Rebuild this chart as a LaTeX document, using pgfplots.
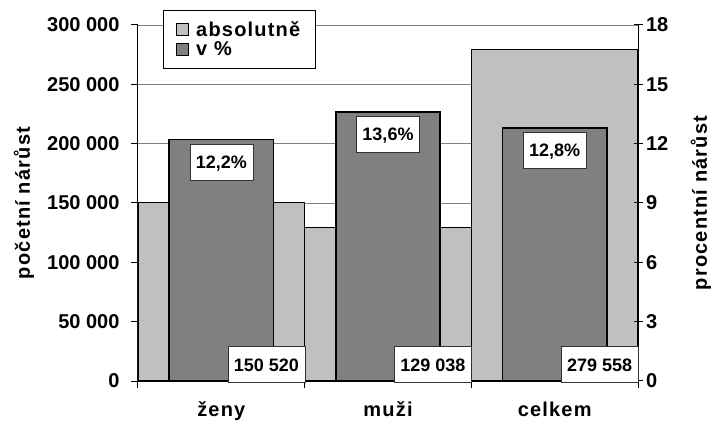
\documentclass[border=0pt]{standalone}
\usepackage{pgfplots}
\pgfplotsset{compat=1.18}
\usepackage{fontspec}
\setmainfont{Liberation Sans}
\newfontfamily\spacedfont{Liberation Sans}[LetterSpace=6]

\definecolor{absgray}{HTML}{C0C0C0}
\definecolor{pctgray}{HTML}{808080}

\newcommand{\chartfont}{\bfseries\fontsize{20}{22}\selectfont}
\newcommand{\boxfont}{\bfseries\fontsize{18}{20}\selectfont}
\newcommand{\spacedchartfont}{\spacedfont\bfseries\fontsize{20}{22}\selectfont}

\tikzset{
  valuebox/.style={
    font=\boxfont, fill=white, draw=black!80, line width=0.6pt,
    inner xsep=6pt, minimum height=36pt, text height=13pt, text depth=0pt,
  },
}
\pgfplotsset{
  common/.style={
    at={(0,0)}, anchor=south west,
    scale only axis, width=500pt, height=356pt,
    xmin=-0.5, xmax=2.5, ymin=0,
    scaled y ticks=false,
    axis line style={black, line width=1pt},
    tick style={black, line width=1pt},
    tick label style={font=\chartfont},
    label style={font=\spacedchartfont},
  },
}

\begin{document}
\begin{tikzpicture}[x=1pt,y=1pt]
\useasboundingbox (-138,-42) rectangle (574,381);

% absolute increase, left axis
\begin{axis}[common,
  ymax=300000,
  axis y line*=left, axis x line*=bottom,
  tick align=outside, major tick length=7pt,
  xtick={-0.5,0.5,1.5,2.5}, xticklabels={},
  extra x ticks={0,1,2},
  extra x tick labels={ženy,muži,celkem},
  extra x tick style={major tick length=0pt, grid=none,
    tick label style={font=\spacedchartfont, yshift=-17pt}},
  ytick={0,50000,100000,150000,200000,250000,300000},
  yticklabels={0,50 000,100 000,150 000,200 000,250 000,300 000},
  yticklabel style={xshift=-8pt},
  ymajorgrids, grid style={pctgray, line width=0.8pt},
  ylabel={početní nárůst},
  ylabel style={at={(axis description cs:-0.228,0.5)}, anchor=center},
]
\addplot[ybar, bar width=1, bar shift=0pt, fill=absgray, draw=black, line width=1.2pt]
  coordinates {(0,150520) (1,129038) (2,279558)};
\end{axis}

% percentage increase, right axis
\begin{axis}[common,
  ymax=18,
  axis y line*=right, axis x line=none,
  tick align=center, major tick length=9pt,
  ytick={0,3,6,9,12,15,18},
  yticklabels={0,3,6,9,12,15,18},
  ylabel={procentní nárůst},
  ylabel style={at={(axis description cs:1.126,0.5)}, anchor=center, rotate=0},
  legend style={at={(rel axis cs:0.05,1.042)}, anchor=north west,
    draw=black, line width=0.8pt, fill=white, font=\spacedchartfont,
    inner xsep=13pt, inner ysep=9pt, row sep=0pt, column sep=5pt,
    cells={anchor=west}},
  legend image code/.code={\draw[#1, line width=0.8pt] (0pt,-6pt) rectangle (12pt,6pt);},
]
\addlegendimage{fill=absgray, draw=black}
\addlegendentry{absolutně}
\addplot[ybar, bar width=0.625, bar shift=0pt, fill=pctgray, draw=black, line width=1.5pt,
  point meta=explicit symbolic,
  nodes near coords,
  every node near coord/.append style={valuebox, anchor=north, yshift=-4pt},
]
  coordinates {(0,12.2)[12,2\%] (1,13.6)[13,6\%] (2,12.8)[12,8\%]};
\addlegendentry{v \%}
% absolute values written at the foot of each group
\addplot[draw=none, mark=none, forget plot,
  point meta=explicit symbolic,
  nodes near coords,
  every node near coord/.append style={valuebox, anchor=south, xshift=45pt, yshift=-2pt},
]
  coordinates {(0,0)[150 520] (1,0)[129 038] (2,0)[279 558]};
\end{axis}
\end{tikzpicture}
\end{document}
